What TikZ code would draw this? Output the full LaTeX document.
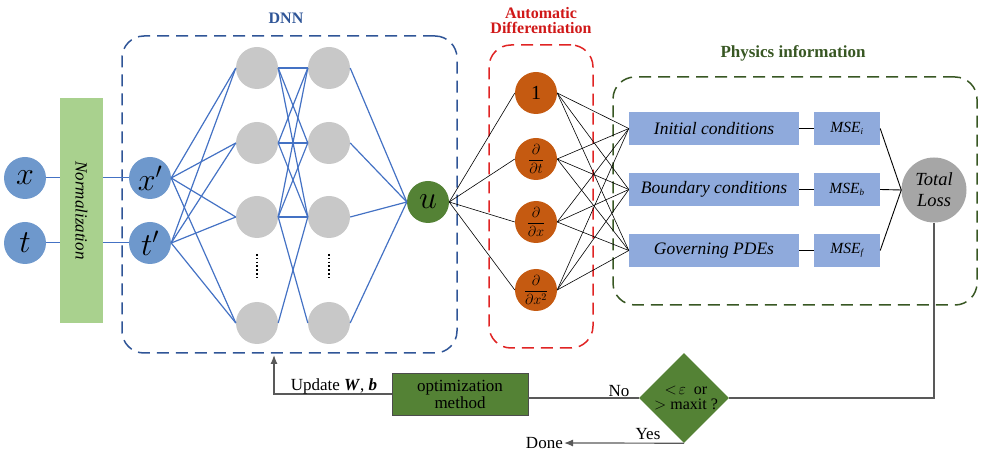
\RequirePackage{fix-cm}
\documentclass[tikz,border=0pt]{standalone}
\usepackage{fontspec}
\setmainfont{Liberation Serif}
\usetikzlibrary{shapes.geometric,arrows.meta}

\definecolor{inblue}{HTML}{6E98CC}
\definecolor{hidgray}{HTML}{C8C8C8}
\definecolor{ugreen}{HTML}{548235}
\definecolor{adorange}{HTML}{C55A11}
\definecolor{condblue}{HTML}{8FAADC}
\definecolor{normgreen}{HTML}{A9D18E}
\definecolor{lossgray}{HTML}{A6A6A6}
\definecolor{netblue}{HTML}{4472C4}
\definecolor{dnnblue}{HTML}{2F5597}
\definecolor{adred}{HTML}{E02424}
\definecolor{adtitle}{HTML}{D01818}
\definecolor{phygreen}{HTML}{385723}
\definecolor{flowgray}{HTML}{595959}

\newcommand{\fs}[1]{\fontsize{#1}{#1}\selectfont}
\newcommand{\pd}[1]{$\displaystyle\frac{\partial}{\partial #1}$}

\begin{document}
\begin{tikzpicture}[x=1pt,y=-1pt,
  incirc/.style={circle, fill=inblue, minimum size=42pt, inner sep=0pt, font=\fs{32}},
  hid/.style={circle, fill=hidgray, minimum size=42pt, inner sep=0pt},
  adnode/.style={circle, fill=adorange, minimum size=42pt, inner sep=0pt, font=\fs{14.5}},
  condbox/.style={rectangle, fill=condblue, minimum width=170pt, minimum height=33pt, inner sep=0pt, font=\fs{17.5}\itshape},
  msebox/.style={rectangle, fill=condblue, minimum width=66pt, minimum height=33pt, inner sep=0pt, font=\fs{15.5}\itshape},
  group/.style={draw, dash pattern=on 12pt off 7pt, line width=1.5pt, rounded corners=22pt, inner sep=0pt},
  title/.style={font=\fs{17}\bfseries, align=center},
  net/.style={draw=netblue, line width=1.2pt},
  wire/.style={draw=black, line width=0.6pt},
  flow/.style={draw=flowgray, line width=1.2pt},
  lbl/.style={font=\fs{17}, inner sep=1pt},
  dots/.style={line width=2.4pt, dash pattern=on 1.6pt off 2.2pt},
]
\useasboundingbox (0,0) rectangle (1005,462);

% grouping frames and their titles
\node[group, draw=dnnblue, minimum width=335pt, minimum height=317pt] (dnn) at (289.5,194.5) {};
\node[title, text=dnnblue, font=\fs{16}\bfseries] (dnnt) at (286,18) {DNN};
\node[group, draw=adred, minimum width=104pt, minimum height=303pt] (ad) at (541,196.5) {};
\node[title, text=adtitle, font=\fontsize{16}{15}\selectfont\bfseries, align=center, inner sep=0pt] (adt) at (541,21) {Automatic\\Differentiation};
\node[group, draw=phygreen, minimum width=364pt, minimum height=228pt] (phy) at (795,191) {};
\node[title, text=phygreen] (phyt) at (793,53) {Physics information};

% inputs and normalization
\node[incirc] (x) at (25,178) {$x$};
\node[incirc] (t) at (25,243) {$t$};
\node[rectangle, fill=normgreen, minimum width=43pt, minimum height=225pt, inner sep=0pt] (norm) at (81.5,210.5) {};
\node[font=\fs{17}\itshape, rotate=-90] (normt) at (norm.center) {Normalization};
\node[incirc] (xp) at (150,178) {$x'$};
\node[incirc] (tp) at (150,243) {$t'$};
\draw[net, line width=1pt] (x.east) -- (x.east -| norm.west);
\draw[net, line width=1pt] (t.east) -- (t.east -| norm.west);
\draw[net, line width=1pt] (xp.west -| norm.east) -- (xp.west);
\draw[net, line width=1pt] (tp.west -| norm.east) -- (tp.west);

% hidden layers
\foreach \i/\y in {1/68,2/143,3/217,4/323} {
  \node[hid] (a\i) at (257,\y) {};
  \node[hid] (b\i) at (329,\y) {};
}
\draw[dots] (257,254) -- (257,278);
\draw[dots] (329,254) -- (329,278);

% output node
\node[circle, fill=ugreen, minimum size=42pt, inner sep=0pt, font=\fs{32}] (u) at (428,202) {$u$};

% network connections
\foreach \s in {xp,tp} \foreach \i in {1,2,3,4} \draw[net] (\s.east) -- (a\i.west);
\foreach \i in {1,2,3} \foreach \j in {1,2,3} \draw[net] (a\i.east) -- (b\j.west);
\draw[net] (a3.east) -- (b4.west);
\draw[net] (a4.east) -- (b3.west);
\foreach \j in {1,2,3,4} \draw[net] (b\j.east) -- (u.west);

% derivative nodes
\node[adnode, font=\fs{20}] (d0) at (536,93) {1};
\node[adnode] (d1) at (536,159) {\pd{t}};
\node[adnode] (d2) at (536,222) {\pd{x}};
\node[adnode] (d3) at (536,290) {\pd{x^{2}}};
\foreach \k in {0,1,2,3} \draw[wire] (u.east) -- (d\k.west);

% physics terms
\node[condbox] (ic) at (714,128.5) {Initial conditions};
\node[condbox] (bc) at (714,189.5) {Boundary conditions};
\node[condbox] (gp) at (714,250.5) {Governing PDEs};
\node[msebox] (mi) at (847,128.5) {MSE\textsubscript{\fs{9}i}};
\node[msebox] (mb) at (847,189.5) {MSE\textsubscript{\fs{9}b}};
\node[msebox] (mf) at (847,250.5) {MSE\textsubscript{\fs{9}f}};
\node[circle, fill=lossgray, minimum size=65pt, inner sep=0pt, font=\fontsize{18.5}{21}\selectfont\itshape, align=center] (tl) at (934,190) {Total\\Loss};

\foreach \k in {0,1,2,3} \foreach \c in {ic,bc,gp} \draw[wire] (d\k.east) -- (\c.west);
\draw[wire, line width=0.9pt] (ic.east) -- (mi.west);
\draw[wire, line width=0.9pt] (bc.east) -- (mb.west);
\draw[wire, line width=0.9pt] (gp.east) -- (mf.west);
\foreach \m in {mi,mb,mf} \draw[wire, line width=0.9pt] (\m.east) -- (tl.west);

% stopping test and optimizer loop
\node[diamond, fill=ugreen, minimum width=90pt, minimum height=90pt, inner sep=0pt] (dec) at (684,398) {};
\node[font=\fs{16}, align=center, inner sep=0pt] (dect) at (686,398) {$<\!\varepsilon$\ \ or\\$>$ maxit ?};
\node[rectangle, fill=ugreen, draw=black!70, line width=0.8pt, minimum width=136pt, minimum height=42pt, inner sep=0pt, font=\fs{17}, align=center] (opt) at (460,394) {optimization\\method};
\node[lbl, anchor=east] (done) at (564,443) {Done};
\coordinate (upd) at (274,355);

\draw[flow] (tl.south) |- (dec.east);
\draw[flow] (dec.west) -- (opt.east |- dec.west) node[lbl, pos=0.07, above, anchor=south east] (nol) {No};
\draw[flow, -{Latex[length=9pt,width=7pt]}] (opt.west) -| (upd);
\node[lbl] (updl) at (334,386) {Update \textbf{\textit{W}}, \textbf{\textit{b}}};
\draw[flow, -{Latex[length=9pt,width=7pt]}] (dec.south) -- (done.east);
\node[lbl] (yes) at (648,434) {Yes};

\end{tikzpicture}
\end{document}
